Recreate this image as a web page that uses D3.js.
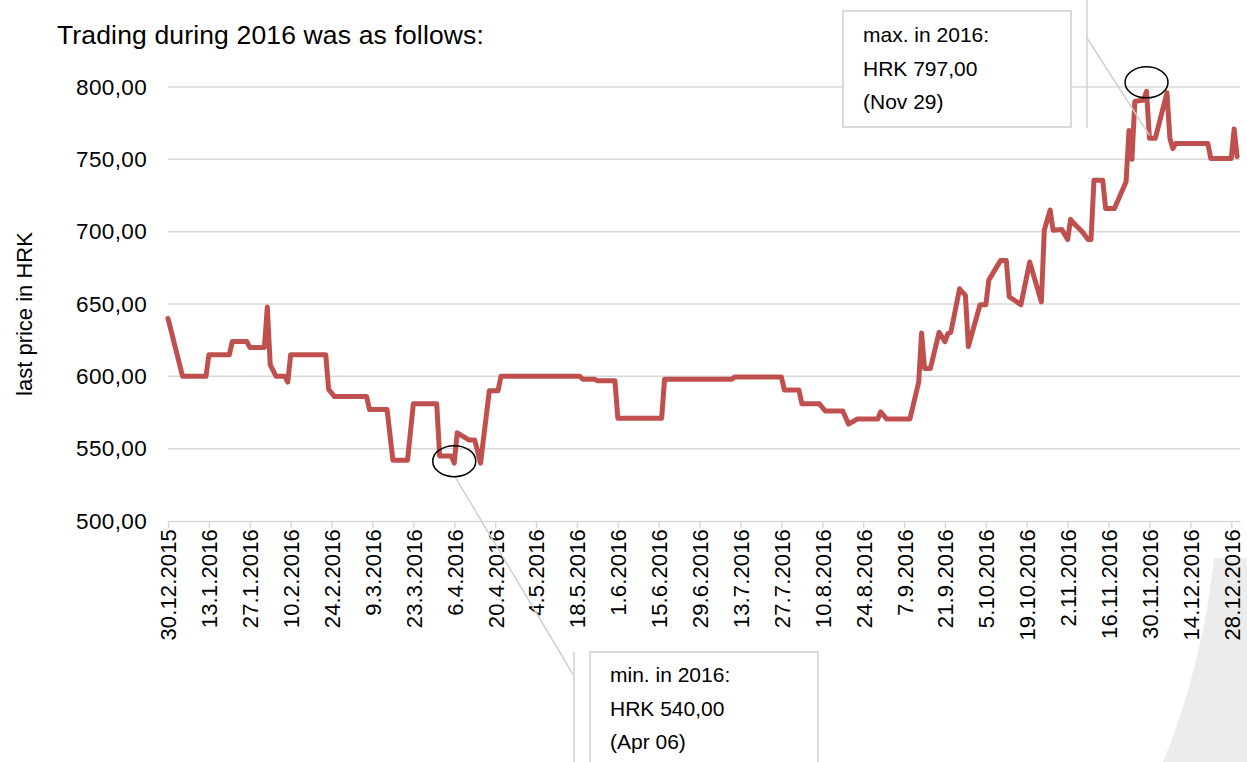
<!DOCTYPE html>
<html>
<head>
<meta charset="utf-8">
<script src="https://cdn.jsdelivr.net/npm/d3@7"></script>
<style>
    body { margin: 0; background: #fff; }
    svg { display: block; font-family: "Liberation Sans", Arial, sans-serif; }
</style>
</head>
<body>
<svg id="chart" width="1247" height="762"></svg>
<script>
// trading days (last price changes)
const dates = [
    "2015-12-30", "2016-01-04", "2016-01-12", "2016-01-13", "2016-01-20", "2016-01-21",
    "2016-01-26", "2016-01-27", "2016-02-01", "2016-02-02", "2016-02-03", "2016-02-05",
    "2016-02-08", "2016-02-09", "2016-02-10", "2016-02-22", "2016-02-23", "2016-02-25",
    "2016-03-07", "2016-03-08", "2016-03-14", "2016-03-16", "2016-03-21", "2016-03-23",
    "2016-03-31", "2016-04-01", "2016-04-05", "2016-04-06", "2016-04-07", "2016-04-11",
    "2016-04-13", "2016-04-15", "2016-04-18", "2016-04-21", "2016-04-22", "2016-05-19",
    "2016-05-20", "2016-05-24", "2016-05-25", "2016-05-31", "2016-06-01", "2016-06-16",
    "2016-06-17", "2016-07-10", "2016-07-11", "2016-07-27", "2016-07-28", "2016-08-02",
    "2016-08-03", "2016-08-09", "2016-08-11", "2016-08-17", "2016-08-19", "2016-08-22",
    "2016-08-29", "2016-08-30", "2016-09-01", "2016-09-09", "2016-09-12", "2016-09-13",
    "2016-09-14", "2016-09-16", "2016-09-19", "2016-09-21", "2016-09-22", "2016-09-23",
    "2016-09-26", "2016-09-28", "2016-09-29", "2016-10-03", "2016-10-05", "2016-10-06",
    "2016-10-10", "2016-10-12", "2016-10-13", "2016-10-17", "2016-10-20", "2016-10-24",
    "2016-10-25", "2016-10-27", "2016-10-28", "2016-10-31", "2016-11-02", "2016-11-03",
    "2016-11-04", "2016-11-07", "2016-11-09", "2016-11-10", "2016-11-11", "2016-11-14",
    "2016-11-15", "2016-11-18", "2016-11-22", "2016-11-23", "2016-11-24", "2016-11-25",
    "2016-11-28", "2016-11-29", "2016-11-30", "2016-12-02", "2016-12-06", "2016-12-07",
    "2016-12-08", "2016-12-09", "2016-12-20", "2016-12-21", "2016-12-28", "2016-12-29",
    "2016-12-30"
];
const prices = [
    640, 600, 600, 615, 615, 624,
    624, 620, 620, 648, 608, 600,
    600, 596, 615, 615, 591, 586,
    586, 577, 577, 542, 542, 581,
    581, 545, 545, 540, 561, 556,
    556, 540, 590, 590, 600, 600,
    598, 598, 597, 597, 571, 571,
    598, 598, 599.5, 599.5, 590.5, 590.5,
    581, 581, 576, 576, 567, 570.5,
    570.5, 575.5, 570.5, 570.5, 596, 630,
    605.5, 605.5, 630.5, 624, 629.5, 630.5,
    660.5, 656, 620.5, 649.5, 649.5, 666.5,
    680, 680, 655, 649.5, 679, 651.5,
    701, 715, 701, 701.5, 694.5, 708.5,
    706, 700, 694.5, 694.5, 735.5, 735.5,
    716, 716, 734.5, 770, 750, 790,
    791, 797, 764.5, 764.5, 796, 764.5,
    757.5, 761, 761, 750.5, 750.5, 771,
    752
];
const yTicks = [500, 550, 600, 650, 700, 750, 800];
const axisStart = "2015-12-30";
const axisEnd = "2016-12-31";
const titleText = "Trading during 2016 was as follows:";
const yTitle = "last price in HRK";

const svg = d3.select('#chart');
const parse = d3.utcParse('%Y-%m-%d');
const hr = d3.formatLocale({ decimal: ',', thousands: '.', grouping: [3], currency: ['', ''] });
const fmtPrice = hr.format('.2f');
const fmtDate = d3.utcFormat('%-d.%-m.%Y');
const fmtNote = d3.utcFormat('%b %d');

const data = dates.map((d, i) => ({ date: parse(d), value: prices[i] }));

const x = d3.scaleUtc()
    .domain([parse(axisStart), parse(axisEnd)])
    .range([168, 1240]);
const y = d3.scaleLinear()
    .domain([500, 800])
    .range([521, 87]);

// decorative swoosh bottom right
svg.append('path')
    .attr('d', 'M1214,558 L1247,558 L1247,762 L1163,762 Q1202,668 1214,558 Z')
    .attr('fill', '#ececec');

// title
svg.append('text')
    .attr('x', 57).attr('y', 44)
    .attr('font-size', 26.5)
    .attr('letter-spacing', 0.15)
    .attr('fill', '#000')
    .text(titleText);

// gridlines
svg.append('g')
    .selectAll('line')
    .data(yTicks.filter(t => t > 500))
    .enter().append('line')
    .attr('x1', x.range()[0]).attr('x2', x.range()[1])
    .attr('y1', d => y(d)).attr('y2', d => y(d))
    .attr('stroke', '#d9d9d9')
    .attr('stroke-width', 1.5);

// y axis labels
const yAxis = svg.append('g')
    .attr('transform', `translate(${x.range()[0]},0)`)
    .call(d3.axisLeft(y).tickValues(yTicks).tickFormat(fmtPrice).tickSize(0).tickPadding(21));
yAxis.select('.domain').remove();
yAxis.selectAll('text')
    .attr('font-size', 22.5)
    .attr('letter-spacing', 0.35)
    .attr('font-family', '"Liberation Sans", Arial, sans-serif')
    .attr('fill', '#000');

// x axis
const xTicks = d3.utcDay.range(parse(axisStart), parse(axisEnd), 14);
const xAxis = svg.append('g')
    .attr('transform', `translate(0,${y(500)})`)
    .call(d3.axisBottom(x).tickValues(xTicks).tickFormat(fmtDate).tickSizeInner(7).tickSizeOuter(0));
xAxis.select('.domain').attr('stroke', '#d9d9d9').attr('stroke-width', 1.5);
xAxis.selectAll('.tick line').attr('stroke', '#d9d9d9').attr('stroke-width', 1.5);
xAxis.selectAll('text')
    .attr('font-size', 22)
    .attr('letter-spacing', 0.15)
    .attr('font-family', '"Liberation Sans", Arial, sans-serif')
    .attr('fill', '#000')
    .attr('text-anchor', 'end')
    .attr('transform', 'rotate(-90)')
    .attr('x', -8)
    .attr('y', 0)
    .attr('dy', '0.36em');

// y axis title
svg.append('text')
    .attr('transform', 'translate(32,314) rotate(-90)')
    .attr('text-anchor', 'middle')
    .attr('font-size', 22)
    .attr('fill', '#000')
    .text(yTitle);

// price line
const line = d3.line()
    .x(d => x(d.date))
    .y(d => y(d.value));

svg.append('path')
    .datum(data)
    .attr('fill', 'none')
    .attr('stroke', '#c0504d')
    .attr('stroke-width', 5)
    .attr('stroke-linejoin', 'round')
    .attr('stroke-linecap', 'round')
    .attr('d', line);

// min / max callouts
const minPt = data.reduce((a, b) => (b.value < a.value ? b : a));
const maxPt = data.reduce((a, b) => (b.value > a.value ? b : a));

function callout(pt, box, bar, lead, label, dyEllipse) {
    const cx = x(pt.date), cy = y(pt.value) + dyEllipse;
    svg.append('line')
        .attr('x1', cx + lead[0]).attr('y1', cy + lead[1])
        .attr('x2', bar.x).attr('y2', bar.lead)
        .attr('stroke', '#d0d0d0').attr('stroke-width', 1.5);
    svg.append('line')
        .attr('x1', bar.x).attr('x2', bar.x)
        .attr('y1', bar.y1).attr('y2', bar.y2)
        .attr('stroke', '#d0d0d0').attr('stroke-width', 1.5);
    svg.append('rect')
        .attr('x', box.x).attr('y', box.y)
        .attr('width', box.w).attr('height', box.h)
        .attr('fill', '#fff')
        .attr('stroke', '#d0d0d0').attr('stroke-width', 1.5);
    const lines = [label + ' in 2016:', 'HRK ' + fmtPrice(pt.value), '(' + fmtNote(pt.date) + ')'];
    svg.append('g').selectAll('text')
        .data(lines)
        .enter().append('text')
        .attr('x', box.x + 20)
        .attr('y', (d, i) => box.ty + i * 33.5)
        .attr('font-size', 21)
        .attr('fill', '#000')
        .text(d => d);
    svg.append('ellipse')
        .attr('cx', cx).attr('cy', cy)
        .attr('rx', 21.5).attr('ry', 15.5)
        .attr('fill', 'none')
        .attr('stroke', '#000').attr('stroke-width', 1.5);
}

callout(minPt,
    { x: 590, y: 652, w: 228, h: 130, ty: 682 },
    { x: 574, y1: 652, y2: 762, lead: 676 },
    [1, 16], 'min.', -2);
callout(maxPt,
    { x: 843, y: 11, w: 228, h: 116, ty: 42 },
    { x: 1087, y1: 0, y2: 128, lead: 38 },
    [3, 53], 'max.', -9);
</script>
</body>
</html>
